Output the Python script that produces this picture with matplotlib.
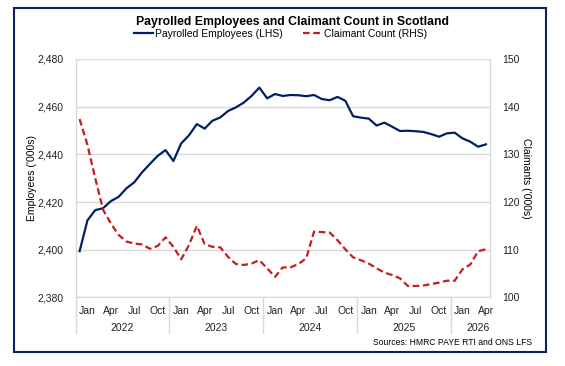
import matplotlib
matplotlib.use("Agg")
from matplotlib import pyplot as plt
from matplotlib.lines import Line2D
from matplotlib.patches import Rectangle

plt.rcParams['font.family'] = ['Liberation Sans', 'DejaVu Sans']

# Monthly data, Jan 2022 to May 2026
employees = [2399.4, 2412.3, 2416.6, 2417.4, 2420.4, 2422.2, 2425.8, 2428.3, 2432.5, 2436.0,
             2439.4, 2441.8, 2437.2, 2444.6, 2448.0, 2452.7, 2450.8, 2454.1, 2455.5, 2458.2,
             2459.7, 2461.7, 2464.5, 2468.0, 2463.5, 2465.3, 2464.5, 2464.9, 2464.8, 2464.4,
             2464.9, 2463.2, 2462.7, 2464.1, 2462.5, 2456.0, 2455.4, 2455.0, 2452.1, 2453.3,
             2451.6, 2449.8, 2449.9, 2449.7, 2449.4, 2448.5, 2447.4, 2448.8, 2449.1, 2446.7,
             2445.3, 2443.2, 2444.2]
claimants = [137.4, 132.0, 125.0, 118.4, 115.5, 113.1, 111.7, 111.3, 111.1, 110.2,
             110.8, 112.6, 110.6, 108.0, 111.0, 115.0, 111.2, 110.6, 110.5, 108.5,
             107.0, 106.8, 107.1, 107.8, 106.1, 104.3, 106.3, 106.3, 107.0, 108.2,
             113.8, 113.7, 113.6, 112.0, 110.1, 108.4, 107.8, 107.1, 106.1, 105.2,
             104.7, 104.0, 102.4, 102.4, 102.5, 102.8, 103.1, 103.5, 103.5, 105.9,
             106.9, 109.7, 110.1]
month_labels = ["Jan", "Apr", "Jul", "Oct"]
years = ["2022", "2023", "2024", "2025", "2026"]

navy = "#002060"
red = "#C0201E"
grid = "#D9D9D9"

fig = plt.figure(figsize=(5.65, 3.66), dpi=100)
ax = fig.add_axes([0.134, 0.1874, 0.733, 0.6514])
ax2 = ax.twinx()

x = list(range(len(employees)))
ax.plot(x, employees, color=navy, lw=1.6, zorder=3)
ax2.plot(x, claimants, color=red, lw=1.6, dashes=(3, 1.6))

ax.set_xlim(-0.5, 52.5)
ax.set_ylim(2380, 2480)
ax2.set_ylim(100, 150)
ax.set_yticks(range(2380, 2481, 20))
ax.set_yticklabels([f"{v:,}" for v in range(2380, 2481, 20)])
ax2.set_yticks(range(100, 151, 10))

ax.grid(axis='y', color=grid, lw=1)
ax.set_axisbelow(True)
for a in (ax, ax2):
    a.tick_params(length=0, labelsize=7.5, colors="#222222")
    for s in a.spines.values():
        s.set_color(grid)
    a.spines['top'].set_visible(False)
ax.tick_params(axis='y', pad=9)
ax2.tick_params(axis='y', pad=9)

# two-level category axis
ticks = []
labels = []
for yi in range(len(years)):
    for mi, m in enumerate(month_labels):
        pos = yi * 12 + mi * 3 + 1
        if pos <= 52:
            ticks.append(pos)
            labels.append(m)
ax.set_xticks(ticks)
ax.set_xticklabels(labels)
ax.tick_params(axis='x', pad=6)

year_pos = [5.5, 17.5, 29.5, 41.5, 51]
for yp, yl in zip(year_pos, years):
    ax.text(yp, -0.128, yl, transform=ax.get_xaxis_transform(), ha='center', va='center',
            fontsize=7.5, color="#222222")
for sep in [-0.5, 11.5, 23.5, 35.5, 47.5]:
    ax.plot([sep, sep], [0, -0.15], transform=ax.get_xaxis_transform(), color=grid,
            lw=1, clip_on=False)

ax.set_ylabel("Employees ('000s)", fontsize=7.5, labelpad=0)
ax2.set_ylabel("Claimants ('000s)", fontsize=7.5, rotation=270, labelpad=8)

fig.text(0.517, 0.939, "Payrolled Employees and Claimant Count in Scotland",
         ha='center', va='center', fontsize=8.8, fontweight='bold')

handles = [Line2D([], [], color=navy, lw=1.6),
           Line2D([], [], color=red, lw=1.6, dashes=(3, 1.6))]
fig.legend(handles, ["Payrolled Employees (LHS)", "Claimant Count (RHS)"],
           loc='center', bbox_to_anchor=(0.4965, 0.907), ncol=2, frameon=False,
           fontsize=7.5, handlelength=1.8, handletextpad=0.2, columnspacing=1.9)

fig.text(0.941, 0.064, "Sources: HMRC PAYE RTI and ONS LFS", ha='right', va='center',
         fontsize=6.2)

fig.patches.append(Rectangle((0.0248, 0.0382), 0.9416, 0.9398, transform=fig.transFigure,
                             fill=False, edgecolor="#0B1F5C", lw=1.5))

fig.savefig("out.png", dpi=100)
